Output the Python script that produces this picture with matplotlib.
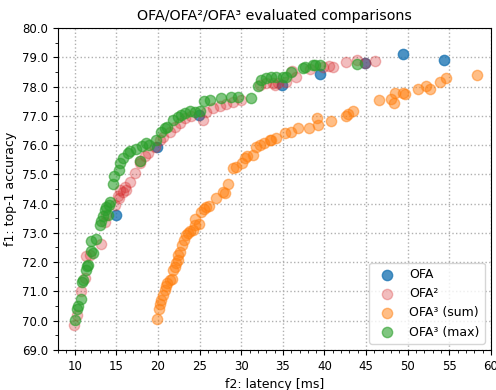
import matplotlib
matplotlib.use("Agg")
import matplotlib.pyplot as plt
from matplotlib.ticker import MultipleLocator, FormatStrFormatter

# OFA
ofa_lat = [15.0, 19.9, 24.9, 34.9, 39.4, 44.9, 49.4, 54.3]
ofa_acc = [73.62, 75.92, 77.03, 78.05, 78.42, 78.82, 79.11, 78.91]

# OFA^2
ofa2_lat = [9.87, 10.3, 10.8, 11.2, 11.4, 11.8, 13.1, 13.7, 13.8, 14.8, 15.2,
            15.3, 15.4, 15.8, 16.0, 16.2, 16.6, 17.2, 17.8, 17.9, 18.4, 18.8,
            19.6, 20.2, 20.6, 21.4, 22.0, 22.6, 23.2, 24.0, 25.4, 25.8, 26.6,
            27.4, 28.2, 29.0, 30.0, 32.2, 33.0, 33.8, 34.0, 34.4, 35.4, 36.1,
            36.6, 38.2, 39.8, 40.6, 41.0, 42.6, 43.9, 44.9, 46.1]
ofa2_acc = [69.86, 70.2, 71.0, 71.46, 72.2, 72.25, 72.62, 73.36, 73.6, 73.96,
            74.25, 74.19, 74.47, 74.38, 74.58, 74.45, 74.75, 75.04, 75.38,
            75.44, 75.61, 75.72, 75.93, 76.18, 76.29, 76.46, 76.63, 76.75,
            76.92, 77.0, 76.86, 77.14, 77.26, 77.34, 77.41, 77.48, 77.54,
            78.05, 78.11, 78.11, 78.05, 78.13, 78.15, 78.54, 78.34, 78.59,
            78.66, 78.7, 78.66, 78.85, 78.91, 78.82, 78.88]

# OFA^3 (sum)
sum_lat = [19.9, 20.1, 20.3, 20.4, 20.6, 20.8, 21.0, 21.1, 21.4, 21.7, 21.8,
           22.0, 22.2, 22.4, 22.4, 22.7, 22.9, 23.1, 23.4, 23.6, 23.9, 24.2,
           24.4, 24.9, 24.5, 25.2, 25.5, 25.8, 26.1, 27.0, 27.8, 28.0, 28.4,
           29.0, 29.4, 30.1, 30.4, 30.7, 31.4, 31.8, 32.2, 32.7, 33.4, 33.6,
           34.2, 35.3, 36.0, 36.8, 38.1, 39.1, 39.2, 40.8, 42.6, 42.8, 43.4,
           46.5, 48.0, 48.3, 48.5, 49.4, 49.7, 51.2, 52.2, 52.7, 53.9, 54.6,
           58.3]
sum_acc = [70.06, 70.38, 70.55, 70.72, 70.89, 71.06, 71.17, 71.29, 71.38,
           71.42, 71.74, 71.83, 71.97, 72.08, 72.25, 72.33, 72.59, 72.76,
           72.93, 72.99, 73.05, 73.11, 73.28, 73.31, 73.47, 73.7, 73.81, 73.9,
           73.92, 74.19, 74.41, 74.36, 74.68, 75.21, 75.24, 75.38, 75.55,
           75.63, 75.67, 75.95, 76.0, 76.06, 76.18, 76.18, 76.24, 76.41,
           76.46, 76.58, 76.58, 76.92, 76.67, 76.84, 77.0, 77.05, 77.18,
           77.54, 77.57, 77.45, 77.77, 77.77, 77.75, 77.92, 78.02, 77.92,
           78.15, 78.3, 78.4]

# OFA^3 (max)
max_lat = [10.0, 10.27, 10.4, 10.7, 10.9, 11.0, 11.3, 11.5, 11.6, 11.9, 12.2,
           12.0, 12.5, 13.0, 13.1, 13.4, 13.6, 13.8, 14.0, 14.1, 14.3, 14.6,
           14.7, 15.3, 15.5, 15.8, 16.4, 16.7, 17.4, 17.9, 18.1, 18.6, 18.9,
           19.8, 20.4, 20.8, 21.1, 21.8, 22.4, 22.8, 23.3, 23.9, 24.4, 25.1,
           25.5, 26.2, 27.6, 28.8, 29.6, 31.2, 32.0, 32.4, 33.0, 33.6, 34.2,
           35.0, 35.4, 36.0, 37.4, 37.6, 38.6, 38.8, 39.5, 43.9]
max_acc = [70.03, 70.38, 70.49, 70.74, 71.31, 71.38, 71.74, 71.85, 71.91,
           72.37, 72.31, 72.71, 72.79, 73.28, 73.39, 73.56, 73.79, 73.88,
           73.62, 73.96, 74.04, 74.68, 74.95, 75.15, 75.38, 75.55, 75.74,
           75.81, 75.87, 75.44, 75.97, 76.06, 76.0, 76.18, 76.46, 76.58,
           76.63, 76.86, 76.97, 77.03, 77.11, 77.18, 77.14, 77.18, 77.52,
           77.54, 77.6, 77.66, 77.63, 77.6, 78.02, 78.23, 78.28, 78.34,
           78.34, 78.34, 78.34, 78.51, 78.62, 78.68, 78.74, 78.74, 78.74,
           78.76]

plt.rcParams["font.size"] = 9

fig = plt.figure(figsize=(4.96, 3.9), dpi=100)
ax = fig.add_axes([0.117, 0.103, 0.873, 0.825])

ax.scatter(ofa_lat, ofa_acc, s=55, color="tab:blue", alpha=0.8, label="OFA", zorder=3)
ax.scatter(ofa2_lat, ofa2_acc, s=55, color="tab:red", alpha=0.3, label="OFA²", zorder=3)
ax.scatter(sum_lat, sum_acc, s=55, color="tab:orange", alpha=0.5, label="OFA³ (sum)", zorder=3)
ax.scatter(max_lat, max_acc, s=55, color="tab:green", alpha=0.6, label="OFA³ (max)", zorder=3)

ax.set_xlim(8, 60)
ax.set_ylim(69, 80)
ax.xaxis.set_major_locator(MultipleLocator(5))
ax.xaxis.set_minor_locator(MultipleLocator(1))
ax.yaxis.set_major_locator(MultipleLocator(1))
ax.yaxis.set_minor_locator(MultipleLocator(0.5))
ax.yaxis.set_major_formatter(FormatStrFormatter("%.1f"))
ax.tick_params(labelsize=8.5)
ax.grid(True, which="major", linestyle=":", color="#b0b0b0", linewidth=1)
ax.set_axisbelow(True)

ax.set_title("OFA/OFA²/OFA³ evaluated comparisons", fontsize=10.3)
ax.set_xlabel("f2: latency [ms]")
ax.set_ylabel("f1: top-1 accuracy")
ax.legend(loc="lower right", fontsize=9)

fig.savefig("out.png", dpi=100)
